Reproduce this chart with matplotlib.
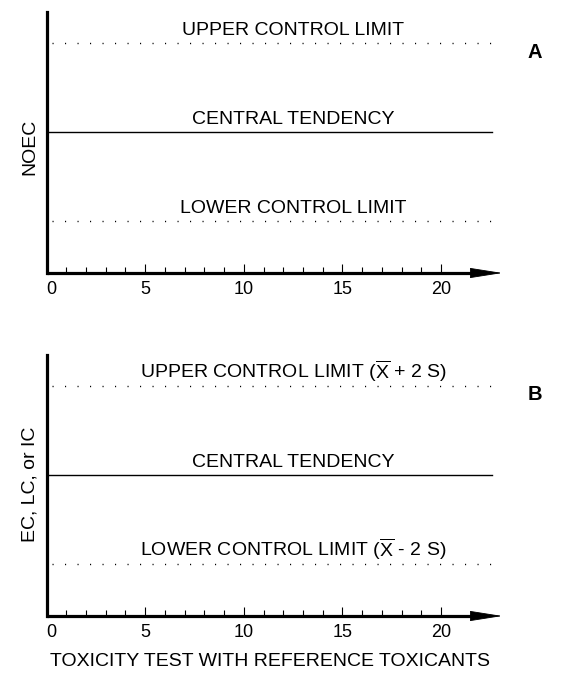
import matplotlib
matplotlib.use("Agg")
import matplotlib.pyplot as plt
from matplotlib.transforms import ScaledTranslation

plt.rcParams['font.family'] = ['Liberation Sans', 'DejaVu Sans']
plt.rcParams['mathtext.fontset'] = 'custom'
plt.rcParams['mathtext.rm'] = 'Liberation Sans'
plt.rcParams['mathtext.it'] = 'Liberation Sans'

# ---- data ----
major_ticks = [0, 5, 10, 15, 20]
minor_ticks = [1, 2, 3, 4, 6, 7, 8, 9, 11, 12, 13, 14, 16, 17, 18, 19]
tick_labels = ["0", "5", "10", "15", "20"]
levels = {"lower": 1.0, "central": 2.0, "upper": 3.0}
panel_letters = ["A", "B"]
y_labels = ["NOEC", "EC, LC, or IC"]
texts_A = {"upper": "UPPER CONTROL LIMIT",
           "central": "CENTRAL TENDENCY",
           "lower": "LOWER CONTROL LIMIT"}
texts_B = {"upper": r"UPPER CONTROL LIMIT ($\overline{\mathrm{X}}$ + 2 S)",
           "central": "CENTRAL TENDENCY",
           "lower": r"LOWER CONTROL LIMIT ($\overline{\mathrm{X}}$ - 2 S)"}
x_label = "TOXICITY TEST WITH REFERENCE TOXICANTS"

W, H = 579, 673
fig = plt.figure(figsize=(W / 100, H / 100), dpi=100)

XMAX = 23.1
YBOT, YTOP = 0.416, 3.348
LINE_END = 22.6
FS = 14.0
TFS = 13.0


def make_panel(top_px, bottom_px, texts, letter, ylab, letter_y, ylab_y):
    left_px = 46.5
    right_px = 46.5 + XMAX * 19.73
    ax = fig.add_axes([left_px / W, 1 - bottom_px / H,
                       (right_px - left_px) / W, (bottom_px - top_px) / H])
    ax.set_xlim(0, XMAX)
    ax.set_ylim(YBOT, YTOP)
    for s in ["top", "right", "bottom"]:
        ax.spines[s].set_visible(False)
    ax.spines["left"].set_linewidth(2.3)
    ax.set_yticks([])
    ax.set_xticks(major_ticks)
    ax.set_xticklabels(tick_labels, fontsize=TFS)
    ax.set_xticks(minor_ticks, minor=True)
    ax.tick_params(axis="x", which="major", direction="in", length=6.5,
                   width=0.8, pad=5.5)
    ax.tick_params(axis="x", which="minor", direction="in", length=4.2,
                   width=0.8)
    lbl0 = ax.get_xticklabels()[0]
    lbl0.set_transform(lbl0.get_transform() +
                       ScaledTranslation(5 / 100, 0, fig.dpi_scale_trans))
    # x axis with arrow
    ax.plot([0, 21.8], [YBOT, YBOT], color="black", lw=2.3,
            solid_capstyle="butt", clip_on=False, zorder=5)
    ax.annotate("", xy=(XMAX, YBOT), xytext=(21.5, YBOT),
                arrowprops=dict(arrowstyle="-|>,head_length=2.1,head_width=0.33",
                                lw=0.6, color="black", mutation_scale=10,
                                shrinkA=0, shrinkB=0),
                annotation_clip=False, zorder=6)
    # control lines
    ax.plot([0, LINE_END], [levels["central"]] * 2, color="black", lw=1.0)
    for k in ["upper", "lower"]:
        ax.plot([0.3, LINE_END], [levels[k]] * 2, color="black", lw=1.0,
                linestyle=(0, (0.8, 8.2)))
    for k in ["upper", "central", "lower"]:
        ax.annotate(texts[k], xy=(12.5, levels[k]), xytext=(0, 6),
                    textcoords="offset points", ha="center", va="baseline",
                    fontsize=FS)
    fig.text(535 / W, 1 - letter_y / H, letter, fontsize=14.5,
             fontweight="bold", ha="center", va="center")
    fig.text(30 / W, 1 - ylab_y / H, ylab, fontsize=FS, rotation=90,
             ha="center", va="center")
    return ax


make_panel(12, 273, texts_A, panel_letters[0], y_labels[0], 52, 147)
make_panel(355, 616, texts_B, panel_letters[1], y_labels[1], 395, 484)
fig.text(270 / W, 1 - 662 / H, x_label, fontsize=FS, ha="center",
         va="center")

fig.savefig("out.png", dpi=100)
